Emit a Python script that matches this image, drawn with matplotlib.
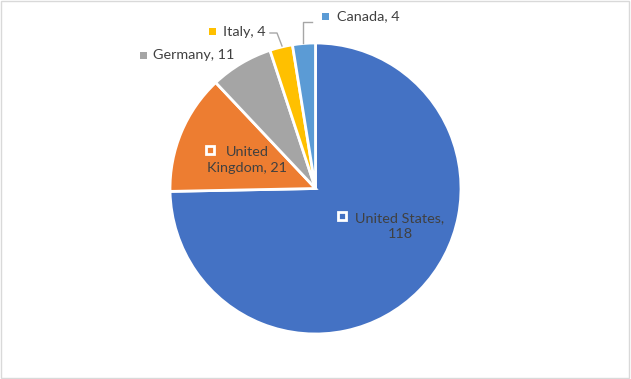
import matplotlib
matplotlib.use("Agg")
import matplotlib.pyplot as plt
from matplotlib.patches import Rectangle

countries = ["United States", "United Kingdom", "Germany", "Italy", "Canada"]
values = [118, 21, 11, 4, 4]
colors = ["#4472C4", "#ED7D31", "#A5A5A5", "#FFC000", "#5B9BD5"]

W, H = 631, 379
fig = plt.figure(figsize=(W / 100, H / 100), dpi=100)
ax = fig.add_axes([0, 0, 1, 1])
ax.set_xlim(0, W)
ax.set_ylim(0, H)
ax.set_aspect("equal")
ax.axis("off")

def Y(y):
    return H - y

cx, cy, r = 315.5, 188.5, 145.5
ax.pie(values, colors=colors, startangle=90, counterclock=False,
       center=(cx, Y(cy)), radius=r, frame=True,
       wedgeprops=dict(edgecolor="white", linewidth=2))
ax.set_xlim(0, W)
ax.set_ylim(0, H)
ax.axis("off")

tc = "#404040"
fam = ["Lato", "DejaVu Sans"]
fs = 10.4

def label_text(i, x, y, ha="left"):
    ax.text(x, Y(y), f"{countries[i]}, {values[i]}", color=tc, fontsize=fs,
            family=fam, ha=ha, va="center")

# Outside labels with coloured markers
outside = {2: (143, 55, 153, 55), 3: (212, 31, 223, 32), 4: (325, 16, 337, 16)}
for i, (mx, my, tx, ty) in outside.items():
    ax.add_patch(Rectangle((mx - 3.5, Y(my) - 3.5), 7, 7, facecolor=colors[i],
                           edgecolor="none"))
    label_text(i, tx, ty)

# Leader lines
ax.plot([270, 277, 282], [Y(33), Y(33), Y(46)], color="#A6A6A6", lw=1)
ax.plot([312, 303, 303], [Y(22), Y(22), Y(43)], color="#A6A6A6", lw=1)

# Inside labels with hollow white markers
def hollow(mx, my):
    ax.add_patch(Rectangle((mx - 4, Y(my) - 4), 8, 8, facecolor="none",
                           edgecolor="white", linewidth=2))

hollow(210, 150)
ax.text(247, Y(160), f"United\nKingdom, {values[1]}", color=tc, fontsize=fs,
        family=fam, ha="center", va="center", linespacing=1.35)
hollow(342, 216)
ax.text(400, Y(226), f"United States,\n{values[0]}", color=tc, fontsize=fs,
        family=fam, ha="center", va="center", linespacing=1.35)

# Chart border
ax.add_patch(Rectangle((0.5, 1.5), W - 2.5, H - 2.5, facecolor="none",
                       edgecolor="#D9D9D9", linewidth=1))

fig.savefig("out.png", dpi=100)
